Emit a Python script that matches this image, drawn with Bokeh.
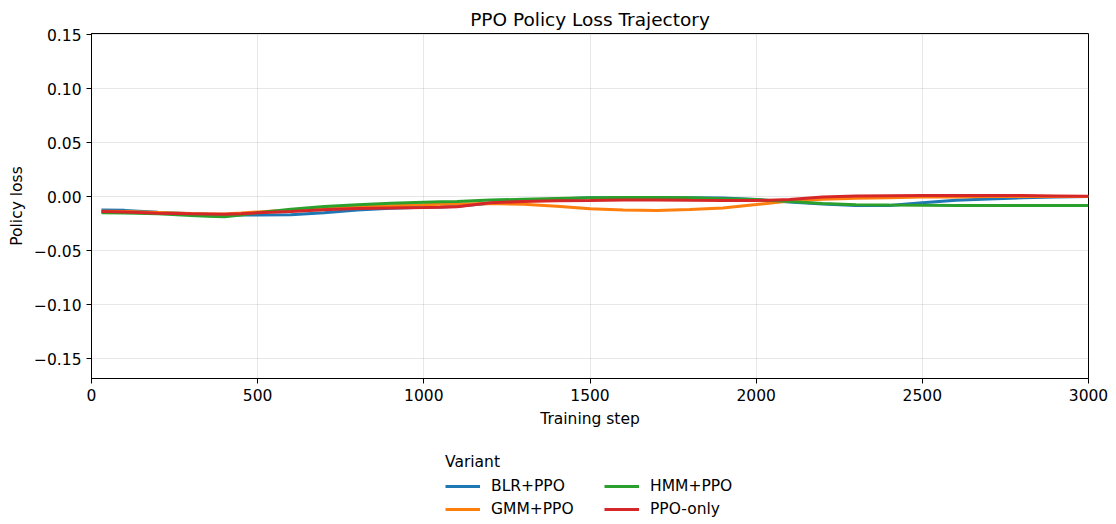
from bokeh.plotting import figure
from bokeh.layouts import column
from bokeh.models import Legend, LegendItem, FixedTicker, Range1d, CustomJSTickFormatter
from bokeh.embed import file_html
from bokeh.resources import INLINE

steps = [30, 100, 200, 300, 350, 400, 450, 500, 600, 700, 800, 900, 1000, 1050, 1100, 1150, 1200, 1300, 1400, 1500,
         1600, 1700, 1800, 1900, 2000, 2100, 2200, 2300, 2400, 2500, 2600, 2700, 2800, 2900, 3000]

blr_ppo = [-0.0125, -0.0128, -0.0145, -0.0160, -0.0165, -0.0168, -0.0171, -0.0172, -0.0168, -0.0150, -0.0125, -0.0108,
           -0.0100, -0.0097, -0.0090, -0.0076, -0.0062, -0.0040, -0.0022, -0.0012, -0.0010, -0.0010, -0.0010, -0.0013,
           -0.0028, -0.0050, -0.0070, -0.0082, -0.0083, -0.0058, -0.0035, -0.0022, -0.0012, -0.0005, 0.0000]

gmm_ppo = [-0.0135, -0.0138, -0.0148, -0.0158, -0.0161, -0.0162, -0.0153, -0.0142, -0.0125, -0.0108, -0.0095, -0.0085,
           -0.0077, -0.0072, -0.0068, -0.0066, -0.0065, -0.0072, -0.0090, -0.0114, -0.0125, -0.0130, -0.0120, -0.0105,
           -0.0074, -0.0042, -0.0026, -0.0015, -0.0010, -0.0005, -0.0003, 0.0000, 0.0000, 0.0000, 0.0000]

hmm_ppo = [-0.0150, -0.0152, -0.0160, -0.0175, -0.0183, -0.0186, -0.0172, -0.0150, -0.0118, -0.0092, -0.0075, -0.0062,
           -0.0052, -0.0048, -0.0045, -0.0039, -0.0033, -0.0025, -0.0018, -0.0012, -0.0008, -0.0008, -0.0012, -0.0020,
           -0.0028, -0.0045, -0.0065, -0.0075, -0.0078, -0.0080, -0.0082, -0.0083, -0.0083, -0.0083, -0.0083]

ppo_only = [-0.0139, -0.0142, -0.0154, -0.0160, -0.0162, -0.0164, -0.0160, -0.0151, -0.0138, -0.0122, -0.0110, -0.0105,
            -0.0102, -0.0100, -0.0094, -0.0075, -0.0058, -0.0046, -0.0040, -0.0037, -0.0033, -0.0031, -0.0035, -0.0037,
            -0.0037, -0.0028, -0.0005, 0.0005, 0.0008, 0.0009, 0.0010, 0.0010, 0.0009, 0.0006, 0.0003]

variants = ["BLR+PPO", "GMM+PPO", "HMM+PPO", "PPO-only"]
series = [blr_ppo, gmm_ppo, hmm_ppo, ppo_only]
colors = ["#1f77b4", "#ff7f0e", "#2ca02c", "#d62728"]

x_ticks = [0, 500, 1000, 1500, 2000, 2500, 3000]
y_ticks = [-0.15, -0.10, -0.05, 0.0, 0.05, 0.10, 0.15]

FONT = "DejaVu Sans"
FS = "15.5px"

p = figure(output_backend="svg", toolbar_location=None,
           x_range=Range1d(0, 3000), y_range=Range1d(-0.1685, 0.151),
           title="PPO Policy Loss Trajectory",
           min_border_left=91, min_border_right=20, min_border_top=33, min_border_bottom=52)
p.frame_width = 997
p.frame_height = 345

p.title.align = "center"
p.title.text_font = FONT
p.title.text_font_size = "18.5px"
p.title.text_font_style = "normal"
p.title.text_color = "black"
p.title.standoff = 7

for ax in (p.xaxis[0], p.yaxis[0]):
    ax.axis_label_text_font = FONT
    ax.axis_label_text_font_size = FS
    ax.axis_label_text_font_style = "normal"
    ax.axis_label_text_color = "black"
    ax.major_label_text_font = FONT
    ax.major_label_text_font_size = FS
    ax.major_label_text_color = "black"
    ax.major_tick_out = 5
    ax.major_tick_in = 0
    ax.minor_tick_line_color = None
    ax.axis_line_color = "black"
    ax.major_tick_line_color = "black"
    ax.major_label_standoff = 5

p.xaxis.axis_label = "Training step"
p.yaxis.axis_label = "Policy loss"
p.xaxis.ticker = FixedTicker(ticks=x_ticks)
p.yaxis.ticker = FixedTicker(ticks=y_ticks)
p.yaxis.formatter = CustomJSTickFormatter(code="""
    const v = Math.abs(tick) < 1e-9 ? 0 : tick;
    return (v < 0 ? "\u2212" : "") + Math.abs(v).toFixed(2);
""")
p.xaxis.axis_label_standoff = 6
p.yaxis.axis_label_standoff = 5

p.grid.grid_line_color = "#b0b0b0"
p.grid.grid_line_alpha = 0.3
p.outline_line_color = "black"
p.outline_line_alpha = 1
p.outline_line_width = 1

for name, ys, c in zip(variants, series, colors):
    p.line(steps, ys, line_color=c, line_width=3)

# legend strip below the chart (its own ranges keep the proxy lines out of view)
lg = figure(output_backend="svg", toolbar_location=None, width=1108, height=90,
            x_range=Range1d(0, 3000), y_range=Range1d(10, 11),
            x_axis_type=None, y_axis_type=None,
            min_border_left=0, min_border_right=0, min_border_top=0, min_border_bottom=0)
lg.grid.visible = False
lg.outline_line_color = None

items = []
for name, ys, c in zip(variants, series, colors):
    r = lg.line(steps, ys, line_color=c, line_width=3)
    items.append(LegendItem(label=name, renderers=[r]))

legend = Legend(items=items, ncols=2, title="Variant",
                location=(354, 1),
                label_text_font=FONT, label_text_font_size=FS, label_text_color="black",
                title_text_font=FONT, title_text_font_size=FS, title_text_font_style="normal",
                title_text_color="black",
                glyph_width=35, glyph_height=20, label_standoff=11, label_width=110,
                spacing=3, padding=0, margin=0,
                border_line_color=None, background_fill_alpha=0)
lg.add_layout(legend, "center")

layout = column(p, lg, spacing=0)
open("out.html", "w").write(file_html(layout, INLINE))
